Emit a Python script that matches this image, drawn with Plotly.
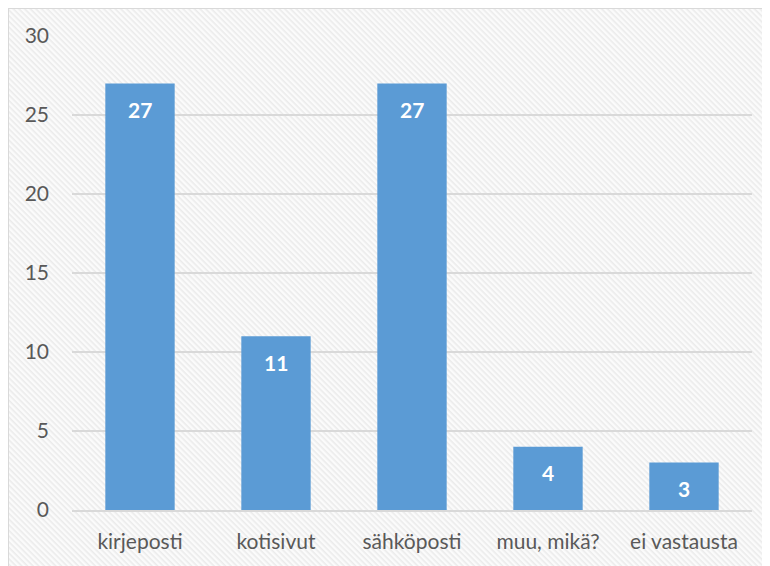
import base64
import plotly.graph_objects as go

categories = ["kirjeposti", "kotisivut", "sähköposti", "muu, mikä?", "ei vastausta"]
counts = [27, 11, 27, 4, 3]
y_ticks = [0, 5, 10, 15, 20, 25, 30]

BAR = "#5B9BD5"
GRID = "#d9d9d9"
TXT = "#595959"
FONT = "Lato"

W, H = 762, 558
L, R, T, B = 64, 18, 28, 56
pw, ph = W - L - R, H - T - B

# faint diagonal hatch, like the Office chart style
svg = (
    '<svg xmlns="http://www.w3.org/2000/svg" width="800" height="600">'
    '<defs><pattern id="p" width="4" height="4" patternUnits="userSpaceOnUse" '
    'patternTransform="rotate(45)">'
    '<rect width="4" height="4" fill="#fbfbfb"/>'
    '<rect width="4" height="1.6" fill="#ebebeb"/></pattern></defs>'
    '<rect width="800" height="600" fill="url(#p)"/></svg>'
)
bg = "data:image/svg+xml;base64," + base64.b64encode(svg.encode()).decode()

fig = go.Figure(
    go.Bar(
        x=categories,
        y=counts,
        marker=dict(color=BAR, line=dict(width=0)),
        hoverinfo="skip",
    )
)

for c, v in zip(categories, counts):
    fig.add_annotation(
        x=c, y=v, text=f"<b>{v}</b>", showarrow=False, yshift=-26,
        font=dict(family=FONT, size=21, color="white"),
    )

x_left = -L / pw
y_top = (ph + T) / ph

fig.update_layout(
    width=W,
    height=H,
    margin=dict(l=L, r=R, t=T, b=B),
    paper_bgcolor="white",
    plot_bgcolor="rgba(0,0,0,0)",
    bargap=0.49,
    showlegend=False,
    font=dict(family=FONT, size=22, color=TXT),
    images=[
        dict(source=bg, xref="paper", yref="paper", x=x_left, y=y_top,
             sizex=800 / pw, sizey=600 / ph, sizing="stretch", layer="below",
             xanchor="left", yanchor="top")
    ],
    shapes=[
        dict(type="line", xref="paper", yref="paper",
             x0=x_left, x1=x_left, y0=y_top, y1=-B / ph,
             line=dict(color="#d9d9d9", width=2), layer="above"),
        dict(type="line", xref="paper", yref="paper",
             x0=x_left, x1=(pw + R) / pw, y0=y_top, y1=y_top,
             line=dict(color="#d9d9d9", width=2), layer="above"),
    ],
)

fig.update_xaxes(
    showgrid=False, showline=True, linecolor=GRID, linewidth=1.5,
    ticks="", ticklabelstandoff=12, tickfont=dict(size=21, color=TXT),
)
fig.update_yaxes(
    range=[0, 30], tickvals=y_ticks, showgrid=True, gridcolor=GRID, gridwidth=1.5,
    zeroline=False, showline=False, ticks="", ticklabelstandoff=22,
    tickfont=dict(size=21, color=TXT),
)

fig.write_html("out.html")
